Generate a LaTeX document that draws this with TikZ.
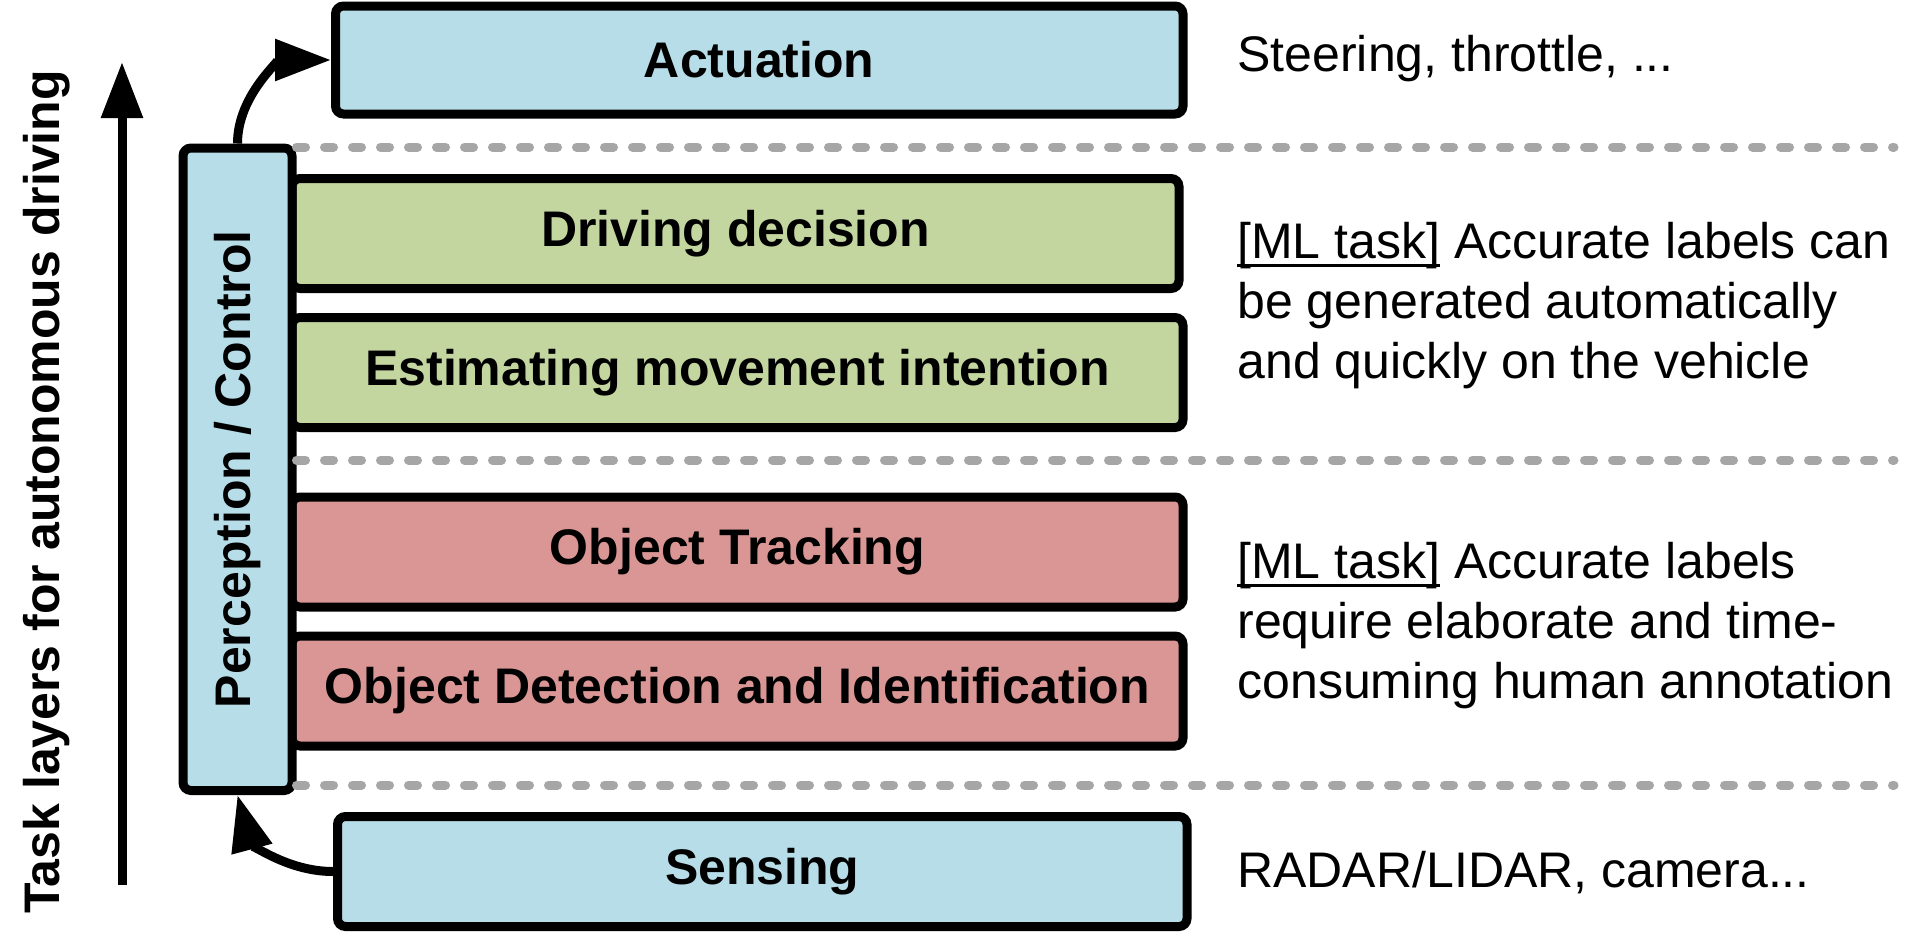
\documentclass[tikz,border=0pt]{standalone}
\usepackage{fontspec}
\setmainfont{Liberation Sans}
\usetikzlibrary{arrows.meta}
\definecolor{layerblue}{HTML}{B7DDE8}
\definecolor{layergreen}{HTML}{C4D6A0}
\definecolor{layerred}{HTML}{D99694}
\definecolor{sepgray}{HTML}{A6A6A6}
\newcommand{\mlunder}[1]{\setbox0\hbox{#1}\rlap{\rule[-4pt]{\wd0}{1.5pt}}\box0\relax}
\tikzset{
  layerbox/.style={draw=black,line width=4.5pt,rounded corners=4pt,inner sep=0pt,
    minimum height=55pt,font=\fontsize{25}{30}\selectfont\bfseries},
  sideline/.style={sepgray,line width=4.5pt,line cap=round,dash pattern=on 4.5pt off 9.5pt},
  flowarrow/.style={line width=4.5pt,-{Triangle[length=28pt,width=20pt]}},
  sidetext/.style={anchor=west,inner sep=0pt,align=left,font=\fontsize{25}{30}\selectfont}
}
\begin{document}
\begin{tikzpicture}[x=0.5pt,y=0.5pt]
\useasboundingbox (0,0) rectangle (1928,-938);
\node[rotate=90,font=\fontsize{25}{30}\selectfont\bfseries] (axislabel) at (47,-492) {Task layers for autonomous driving};
\coordinate (axisbot) at (122,-885);
\coordinate (axistop) at (122,-62);
\draw[flowarrow] (axisbot) -- (axistop);

\node[layerbox,fill=layerblue,minimum width=423.75pt,minimum height=54pt] (act) at (759.25,-60) {Actuation};
\node[layerbox,fill=layergreen,minimum width=443.5pt] (drive) at (735.5,-233.5) {Driving decision};
\node[layerbox,fill=layergreen,minimum width=445.5pt] (intent) at (737.5,-372.5) {Estimating movement intention};
\node[layerbox,fill=layerred,minimum width=445.5pt] (track) at (737.5,-552) {Object Tracking};
\node[layerbox,fill=layerred,minimum width=445.5pt] (detect) at (737.5,-691) {Object Detection and Identification};
\node[layerbox,fill=layerblue,minimum width=424.75pt] (sense) at (762.25,-871.5) {Sensing};
\node[layerbox,fill=layerblue,minimum width=54.5pt,minimum height=321.25pt] (perc) at (237.5,-469.25) {\rotatebox{90}{Perception / Control}};

\draw[sideline] (perc.east |- 0,-147) -- (1894,-147);
\draw[sideline] (perc.east |- 0,-460) -- (1894,-460);
\draw[sideline] (perc.east |- 0,-785) -- (1894,-785);

\draw[flowarrow] (perc.north) to[out=90,in=180] (act.west);
\draw[flowarrow] (sense.west) to[out=180,in=-75] (perc.south);

\node[sidetext] (acttext) at (1237,-59) {Steering, throttle, ...};
\node[sidetext] (mltext1) at (1237,-306) {\mlunder{[ML task]} Accurate labels can\\be generated automatically\\and quickly on the vehicle};
\node[sidetext] (mltext2) at (1237,-626) {\mlunder{[ML task]} Accurate labels\\require elaborate and time-\\consuming human annotation};
\node[sidetext] (sensetext) at (1237,-873) {RADAR/LIDAR, camera...};
\end{tikzpicture}
\end{document}
